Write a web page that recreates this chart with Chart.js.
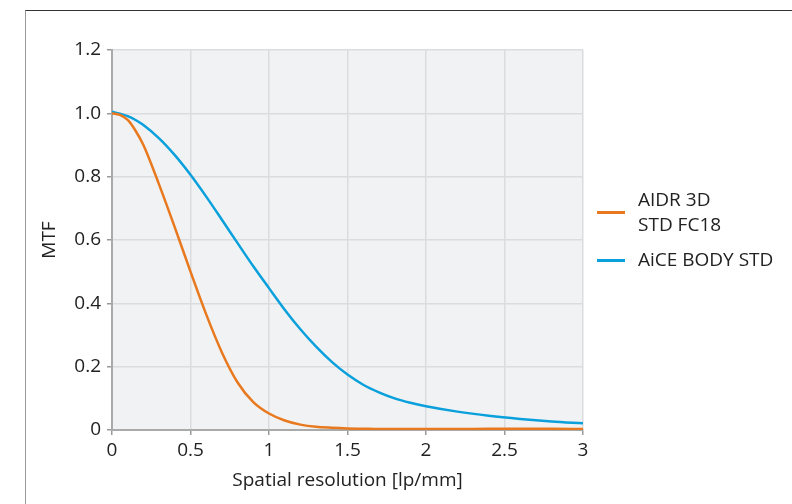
<!DOCTYPE html>
<html>
<head>
<meta charset="utf-8">
<script src="https://cdn.jsdelivr.net/npm/chart.js@4.4.1/dist/chart.umd.min.js"></script>
<style>
  html, body { margin: 0; padding: 0; background: #fff; }
  #wrap { position: relative; width: 792px; height: 504px; overflow: hidden; font-family: "Open Sans", sans-serif; }
  #frame { position: absolute; left: 25px; top: 10px; right: -4px; bottom: -4px; border-top: 1.5px solid #333; border-left: 1.5px solid #999; }
  #legend { position: absolute; left: 597px; top: 187px; font-size: 19px; color: #222; line-height: 25px; white-space: nowrap; }
  .item { position: relative; padding-left: 41px; margin-bottom: 10px; }
  .item span { position: absolute; left: 0; width: 28px; height: 3px; }
</style>
</head>
<body>
<div id="wrap">
  <div id="frame"></div>
  <canvas id="mtf" width="792" height="504"></canvas>
  <div id="legend"></div>
</div>
<script>
const xValues = [0, 0.05, 0.1, 0.15, 0.2, 0.3, 0.4, 0.5, 0.6, 0.7, 0.8, 0.9, 1.0, 1.1, 1.2, 1.3, 1.4, 1.5, 1.6, 1.7, 1.8, 1.9, 2.0, 2.2, 2.4, 2.6, 2.8, 3.0];
const aidrValues = [1.0, 0.995, 0.979, 0.945, 0.9, 0.775, 0.64, 0.5, 0.365, 0.245, 0.15, 0.088, 0.052, 0.03, 0.017, 0.01, 0.007, 0.005, 0.004, 0.003, 0.003, 0.003, 0.003, 0.003, 0.004, 0.004, 0.004, 0.003];
const aiceValues = [1.005, 0.999, 0.991, 0.979, 0.963, 0.921, 0.868, 0.806, 0.737, 0.664, 0.59, 0.517, 0.448, 0.38, 0.318, 0.263, 0.215, 0.175, 0.143, 0.119, 0.1, 0.086, 0.075, 0.058, 0.045, 0.035, 0.027, 0.021];
const seriesNames = [['AIDR 3D', 'STD FC18'], ['AiCE BODY STD']];
const seriesColors = ['#e8791e', '#0aa0dc'];

const pts = ys => xValues.map((x, i) => ({ x: x, y: ys[i] }));

const plotBg = {
  id: 'plotBg',
  beforeDraw(chart) {
    const a = chart.chartArea, c = chart.ctx;
    c.save();
    c.fillStyle = '#f1f2f4';
    c.fillRect(a.left, a.top, a.right - a.left, a.bottom - a.top);
    c.restore();
  }
};

const font = { family: '"Open Sans", sans-serif', size: 19 };

const chart = new Chart(document.getElementById('mtf'), {
  type: 'line',
  data: {
    datasets: [{
      label: seriesNames[0].join(' '),
      data: pts(aidrValues),
      borderColor: seriesColors[0],
      borderWidth: 2.5,
      pointRadius: 0,
      cubicInterpolationMode: 'monotone'
    }, {
      label: seriesNames[1].join(' '),
      data: pts(aiceValues),
      borderColor: seriesColors[1],
      borderWidth: 2.5,
      pointRadius: 0,
      cubicInterpolationMode: 'monotone'
    }]
  },
  options: {
    responsive: false,
    animation: false,
    layout: { padding: { left: 34, top: 50, right: 209, bottom: 8 } },
    plugins: { legend: { display: false }, tooltip: { enabled: false } },
    scales: {
      x: {
        type: 'linear',
        min: 0,
        max: 3,
        ticks: { stepSize: 0.5, color: '#222', font: font, padding: 4, callback: v => String(+v.toFixed(1)) },
        grid: { color: '#dcdcdf', lineWidth: 1.5, tickLength: 5, tickColor: '#999' },
        border: { color: '#aaa', width: 2 },
        title: { display: true, text: 'Spatial resolution [lp/mm]', color: '#222', font: font, padding: { top: 6 } },
        afterFit(s) { s.height = 66; }
      },
      y: {
        min: 0,
        max: 1.2,
        ticks: {
          stepSize: 0.2,
          color: '#222',
          font: font,
          padding: 6,
          callback: v => v === 0 ? '0' : v.toFixed(1)
        },
        grid: { color: '#dcdcdf', lineWidth: 1.5, tickLength: 5, tickColor: '#999' },
        border: { color: '#aaa', width: 2 },
        title: { display: true, text: 'MTF', color: '#222', font: font, padding: { bottom: 12 } },
        afterFit(s) { s.width = 78; }
      }
    }
  },
  plugins: [plotBg]
});

const legend = document.getElementById('legend');
seriesNames.forEach((name, i) => {
  const d = document.createElement('div');
  d.className = 'item';
  const sw = document.createElement('span');
  sw.style.background = seriesColors[i];
  sw.style.top = (name.length * 25 / 2 - 1) + 'px';
  d.appendChild(sw);
  name.forEach(line => {
    const l = document.createElement('div');
    l.textContent = line;
    d.appendChild(l);
  });
  legend.appendChild(d);
});
</script>
</body>
</html>
